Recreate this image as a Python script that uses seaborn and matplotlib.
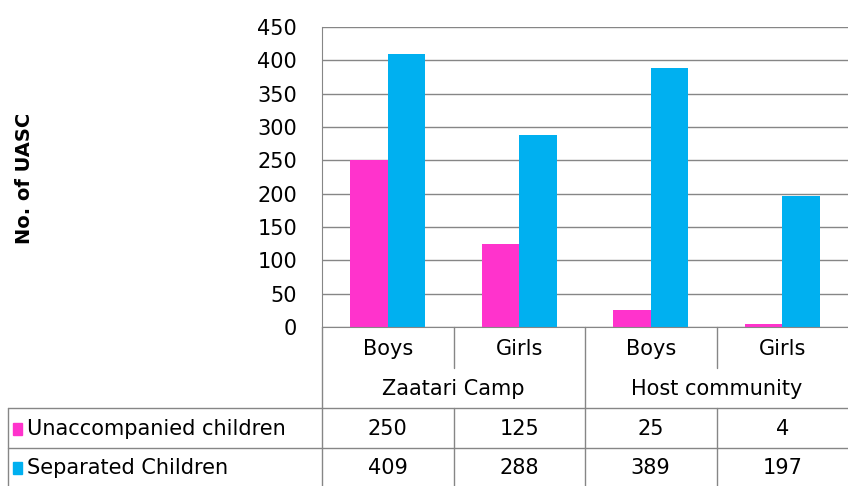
import pandas as pd
import seaborn as sns
import matplotlib.pyplot as plt
from matplotlib.transforms import blended_transform_factory
from matplotlib.lines import Line2D
from matplotlib.patches import Rectangle

# Data
groups = ['Zaatari Camp', 'Host community']
sexes = ['Boys', 'Girls', 'Boys', 'Girls']
series = ['Unaccompanied children', 'Separated Children']
unaccompanied = [250, 125, 25, 4]
separated = [409, 288, 389, 197]
colors = ['#FF33CC', '#00B0F0']

rows = []
for i in range(4):
    rows.append({'pos': i, 'series': series[0], 'value': unaccompanied[i]})
    rows.append({'pos': i, 'series': series[1], 'value': separated[i]})
data = pd.DataFrame(rows)

sns.set_style('white')
plt.rcParams['font.family'] = ['DejaVu Sans']
plt.rcParams['text.color'] = 'black'
plt.rcParams['ytick.color'] = 'black'
fs = 15

fig = plt.figure(figsize=(8.48, 4.86), dpi=100)
ax = fig.add_axes([322 / 848, 1 - 327 / 486, 526 / 848, 300 / 486])

sns.barplot(data=data, x='pos', y='value', hue='series', palette=colors,
            width=0.57, saturation=1, linewidth=0, ax=ax, legend=False)

ax.set_xlim(-0.5, 3.5)
ax.set_ylim(0, 450)
ax.set_yticks(range(0, 451, 50))
ax.tick_params(axis='y', labelsize=fs, length=0, pad=18)
ax.set_xticks([])
ax.set_xlabel('')
ax.set_ylabel('')
ax.grid(axis='y', color='#868686', linewidth=1)
ax.set_axisbelow(True)
for s in ['top', 'right']:
    ax.spines[s].set_visible(False)
ax.spines['left'].set_color('#868686')
ax.spines['bottom'].set_color('#868686')

def fy(px):
    return 1 - px / 486

fig.text(25 / 848, fy(178), 'No. of UASC', rotation=90, ha='center', va='center',
         fontsize=14, fontweight='bold')

# Data table under the chart
tr = blended_transform_factory(ax.transData, fig.transFigure)
line_kw = dict(color='#868686', linewidth=1)

for i, s in enumerate(sexes):
    fig.text(i, fy(349), s, transform=tr, ha='center', va='center', fontsize=fs)
for g, name in enumerate(groups):
    fig.text(g * 2 + 0.5, fy(389), name, transform=tr, ha='center', va='center', fontsize=fs)

table_vals = [unaccompanied, separated]
row_y = [429, 468]
for r in range(2):
    fig.text(27 / 848, fy(row_y[r]), series[r], ha='left', va='center', fontsize=fs)
    fig.patches.append(Rectangle((13 / 848, fy(row_y[r] + 6)), 9 / 848, 12 / 486,
                                 transform=fig.transFigure, color=colors[r]))
    for i, v in enumerate(table_vals[r]):
        fig.text(i, fy(row_y[r]), str(v), transform=tr, ha='center', va='center', fontsize=fs)

# grid lines of the table
fig.add_artist(Line2D([-0.5, -0.5], [fy(327), 0], transform=tr, **line_kw))
fig.add_artist(Line2D([1.5, 1.5], [fy(327), 0], transform=tr, **line_kw))
for x in [0.5, 2.5]:
    fig.add_artist(Line2D([x, x], [fy(327), fy(368)], transform=tr, **line_kw))
    fig.add_artist(Line2D([x, x], [fy(408), 0], transform=tr, **line_kw))
for y in [408, 448]:
    fig.add_artist(Line2D([8 / 848, 1], [fy(y), fy(y)], transform=fig.transFigure, **line_kw))
fig.add_artist(Line2D([8 / 848, 8 / 848], [fy(408), 0], transform=fig.transFigure, **line_kw))

fig.savefig('out.png', dpi=100)
